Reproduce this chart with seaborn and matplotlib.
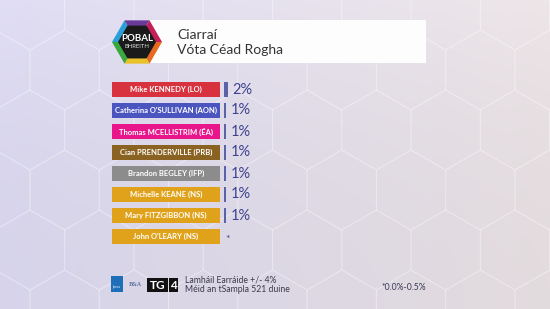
import numpy as np
import pandas as pd
import matplotlib
matplotlib.use("Agg")
import matplotlib.pyplot as plt
from matplotlib.patches import RegularPolygon, Rectangle, Polygon
import seaborn as sns

# ---------------- data ----------------
candidates = ["Mike KENNEDY (LO)", "Catherina O'SULLIVAN (AON)", "Thomas MCELLISTRIM (ÉA)",
              "Cian PRENDERVILLE (PRB)", "Brandon BEGLEY (IFP)", "Michelle KEANE (NS)",
              "Mary FITZGIBBON (NS)", "John O'LEARY (NS)"]
values = [2, 1, 1, 1, 1, 1, 1, 0]
value_labels = ["2%", "1%", "1%", "1%", "1%", "1%", "1%", "*"]
party_colors = ["#d8323f", "#4b55c0", "#e8168a", "#8a6322", "#8c8c8c",
                "#e0a21a", "#e0a21a", "#e0a21a"]
title_lines = ["Ciarraí", "Vóta Céad Rogha"]
footer_lines = ["Lamháil Earráide +/- 4%", "Méid an tSampla 521 duine"]
footnote = "*0.0%-0.5%"

sns.set_theme(style="white")
plt.rcParams['font.family'] = ['Lato', 'DejaVu Sans']

W, H = 550, 309
fig = plt.figure(figsize=(W / 100, H / 100), dpi=100)

# ---------------- background ----------------
bg = fig.add_axes([0, 0, 1, 1])
bg.set_xlim(0, W)
bg.set_ylim(H, 0)
bg.axis('off')
xs = np.linspace(0, 1, 200)
ys = np.linspace(0, 1, 120)
X, Y = np.meshgrid(xs, ys)
c_left = np.array([0.84, 0.83, 0.92])
c_right = np.array([0.89, 0.86, 0.87])
img = c_left[None, None, :] * (1 - X[..., None]) + c_right[None, None, :] * X[..., None]
img = img + (0.04 * (1 - Y[..., None]) ** 2)
img = np.clip(img, 0, 1)
bg.imshow(img, extent=[0, W, H, 0], aspect='auto', zorder=0)

# faint honeycomb
R = 40
dx = np.sqrt(3) * R
for row in range(-1, 8):
    for col in range(-1, 11):
        cx = col * dx + (dx / 2 if row % 2 else 0) + 30
        cy = row * 1.5 * R + 10
        bg.add_patch(RegularPolygon((cx, cy), 6, radius=R, orientation=0,
                                    fill=False, ec="white", lw=0.8, alpha=0.22, zorder=1))

# header box
bg.add_patch(Rectangle((150, 20), 276, 43, fc="white", ec="none", alpha=0.95, zorder=2))
bg.text(177, 35, title_lines[0], fontsize=10, color="#333333", va="center", ha="left", zorder=3)
bg.text(177, 50.5, title_lines[1], fontsize=10, color="#333333", va="center", ha="left", zorder=3)

# logo hexagon
lx, ly, lr = 137, 42, 25
seg_cols = ["#e86a1e", "#e9c12a", "#3aa83f", "#2a9fd8", "#6b3b9c", "#c61f57"]
angles = np.deg2rad(np.arange(0, 360, 60))
verts = [(lx + lr * np.cos(a), ly + lr * np.sin(a)) for a in angles]
for i in range(6):
    bg.add_patch(Polygon([(lx, ly), verts[i], verts[(i + 1) % 6]], closed=True,
                         fc=seg_cols[i], ec="none", zorder=3))
bg.add_patch(RegularPolygon((lx, ly), 6, radius=19, orientation=np.pi / 6,
                            fc="#1a1a1a", ec="none", zorder=4))
bg.text(lx, ly - 3.5, "POBAL", fontsize=7, color="white", fontweight="bold",
        ha="center", va="center", zorder=5)
bg.text(lx, ly + 4.5, "BHREITH", fontsize=4.3, color="#dddddd", ha="center", va="center", zorder=5)

# footer logos
bg.add_patch(Rectangle((111, 276), 12, 16, fc="#1f6fb8", ec="none", zorder=3))
bg.text(117, 287, "Ipsos", fontsize=2.5, color="white", ha="center", va="center", zorder=4)
bg.text(129, 285, "B&A", fontsize=4, color="#2c4a8c", ha="left", va="center",
        family="DejaVu Serif", zorder=4)
bg.add_patch(Rectangle((147, 278), 21, 14, fc="#111111", ec="none", zorder=3))
bg.add_patch(Rectangle((169, 278), 9, 14, fc="#111111", ec="none", zorder=3))
bg.text(157.5, 285.5, "TG", fontsize=8.5, color="white", fontweight="bold",
        ha="center", va="center", zorder=4)
bg.text(173.5, 285.5, "4", fontsize=8.5, color="white", fontweight="bold",
        ha="center", va="center", zorder=4)
bg.text(185, 280, footer_lines[0], fontsize=6.2, color="#3a3a4a", ha="left", va="center", zorder=4)
bg.text(185, 289, footer_lines[1], fontsize=6.2, color="#3a3a4a", ha="left", va="center", zorder=4)
bg.text(381, 288, footnote, fontsize=6.2, color="#3a3a5a", ha="left", va="center", zorder=4)

# ---------------- chart axes ----------------
df = pd.DataFrame({"candidate": candidates, "value": values,
                   "box": [1] * len(candidates), "value_label": value_labels})
row_top, row_bot = 79, 247
bottom = 1 - row_bot / H
height = (row_bot - row_top) / H

# label boxes
ax_lab = fig.add_axes([112 / W, bottom, (220 - 112) / W, height])
ax_lab.patch.set_alpha(0)
sns.barplot(data=df, x="box", y="candidate", hue="candidate", palette=party_colors,
            width=0.7, legend=False, ax=ax_lab, orient="h", saturation=1, linewidth=0)
ax_lab.set_xlim(0, 1)
ax_lab.set_ylim(len(candidates) - 0.5, -0.5)
for i, name in enumerate(candidates):
    ax_lab.text(0.5, i, name, color="white", fontsize=5.5, ha="center", va="center",
                fontweight="bold")
ax_lab.axis('off')

# value bars
ax_bar = fig.add_axes([224 / W, bottom, 100 / W, height])
ax_bar.patch.set_alpha(0)
sns.barplot(data=df, x="value", y="candidate", color="#5a62a8", width=0.7,
            ax=ax_bar, orient="h", saturation=1, linewidth=0)
ax_bar.set_xlim(0, 45)
ax_bar.set_ylim(len(candidates) - 0.5, -0.5)
for i, (v, lab) in enumerate(zip(values, value_labels)):
    if lab == "*":
        ax_bar.annotate(lab, (v, i), xytext=(1, -2), textcoords="offset points",
                        fontsize=7.5, color="#3d4390", ha="left", va="center")
    else:
        ax_bar.annotate(lab, (v, i), xytext=(3, 0), textcoords="offset points",
                        fontsize=10.5, color="#3d4390", ha="left", va="center")
ax_bar.axis('off')

fig.savefig("out.png", dpi=100)
